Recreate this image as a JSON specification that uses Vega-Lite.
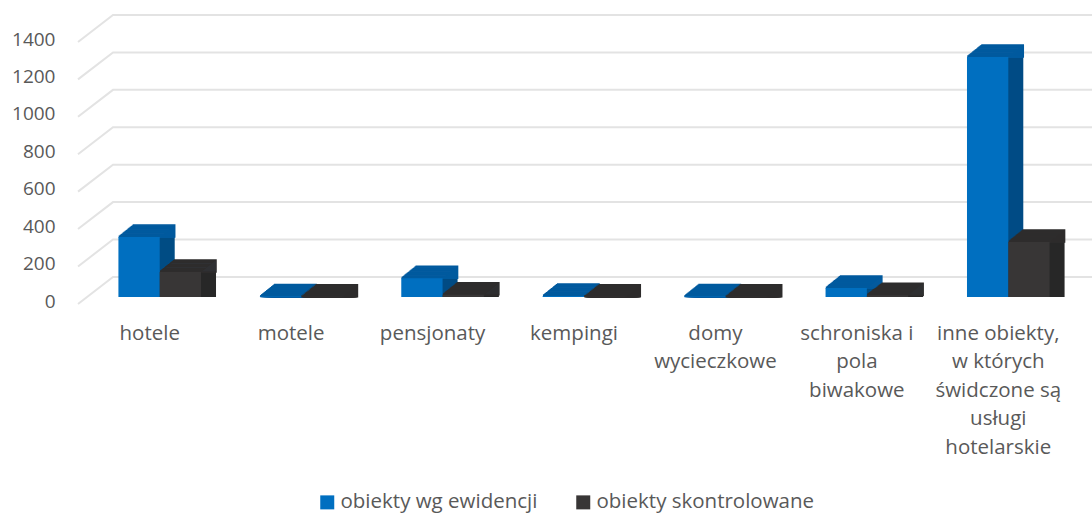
{"$schema":"https://vega.github.io/schema/vega-lite/v6.json","width":990,"height":262,"autosize":"none","padding":{"left":89,"top":35,"right":13,"bottom":216},"background":"white","view":{"stroke":null},
"config":{"font":"Open Sans","view":{"stroke":null}},
"datasets":{"bars":[
{"category":"hotele","series":"obiekty wg ewidencji","value":320},{"category":"hotele","series":"obiekty skontrolowane","value":134},
{"category":"motele","series":"obiekty wg ewidencji","value":3},{"category":"motele","series":"obiekty skontrolowane","value":1},
{"category":"pensjonaty","series":"obiekty wg ewidencji","value":100},{"category":"pensjonaty","series":"obiekty skontrolowane","value":12},
{"category":"kempingi","series":"obiekty wg ewidencji","value":6},{"category":"kempingi","series":"obiekty skontrolowane","value":2},
{"category":"domy\nwycieczkowe","series":"obiekty wg ewidencji","value":3},{"category":"domy\nwycieczkowe","series":"obiekty skontrolowane","value":1},
{"category":"schroniska i\npola\nbiwakowe","series":"obiekty wg ewidencji","value":48},{"category":"schroniska i\npola\nbiwakowe","series":"obiekty skontrolowane","value":10},
{"category":"inne obiekty,\nw których\nświdczone są\nusługi\nhotelarskie","series":"obiekty wg ewidencji","value":1283},{"category":"inne obiekty,\nw których\nświdczone są\nusługi\nhotelarskie","series":"obiekty skontrolowane","value":294}],
"wall":[
{"level":0,"depth":0,"v":-37},{"level":0,"depth":1,"v":107},{"level":0,"depth":2,"v":107},
{"level":200,"depth":0,"v":163},{"level":200,"depth":1,"v":307},{"level":200,"depth":2,"v":307},
{"level":400,"depth":0,"v":363},{"level":400,"depth":1,"v":507},{"level":400,"depth":2,"v":507},
{"level":600,"depth":0,"v":563},{"level":600,"depth":1,"v":707},{"level":600,"depth":2,"v":707},
{"level":800,"depth":0,"v":763},{"level":800,"depth":1,"v":907},{"level":800,"depth":2,"v":907},
{"level":1000,"depth":0,"v":963},{"level":1000,"depth":1,"v":1107},{"level":1000,"depth":2,"v":1107},
{"level":1200,"depth":0,"v":1163},{"level":1200,"depth":1,"v":1307},{"level":1200,"depth":2,"v":1307},
{"level":1400,"depth":0,"v":1363},{"level":1400,"depth":1,"v":1507},{"level":1400,"depth":2,"v":1507}]},
"resolve":{"scale":{"x":"independent"}},
"layer":[
{"data":{"name":"wall"},"mark":{"type":"line","color":"#E3E3E3","strokeWidth":2},
"encoding":{"x":{"field":"depth","type":"quantitative","axis":null,"scale":{"domain":[0,1,2],"range":[-11,24,1003]}},
"y":{"field":"v","type":"quantitative","title":null,"scale":{"domain":[0,1400],"nice":false},
"axis":{"values":[0,200,400,600,800,1000,1200,1400],"format":"d","labelOverlap":false,"labelFontSize":19,"labelColor":"#595959","labelPadding":34,"labelOffset":4,"ticks":false,"domain":false,"grid":false}},
"detail":{"field":"level"}}},
{"data":{"name":"bars"},
"encoding":{
"x":{"field":"category","type":"nominal","sort":null,"title":null,"scale":{"paddingInner":0.416,"paddingOuter":0.208},
"axis":{"labelExpr":"split(datum.label,'\\n')","labelAngle":0,"labelFontSize":20.5,"labelColor":"#595959","labelLineHeight":28.5,"labelPadding":26,"labelOffset":-10,"labelBaseline":"top","labelLimit":0,"labelOverlap":false,"ticks":false,"domain":false,"grid":false}},
"y":{"field":"value","type":"quantitative","stack":null,"title":null,"scale":{"domain":[0,1400],"nice":false},
"axis":{"values":[0,200,400,600,800,1000,1200,1400],"format":"d","labelOverlap":false,"labelFontSize":19,"labelColor":"#595959","labelPadding":34,"labelOffset":4,"ticks":false,"domain":false,"grid":false}}},
"layer":[
{"encoding":{"color":{"condition":{"test":"datum.series==='obiekty wg ewidencji'","value":"#004C85"},"value":"#282828"}},
"layer":[
{"mark":{"type":"bar","width":41.3,"xOffset":{"expr":"(datum.series==='obiekty wg ewidencji'?-20.65:20.65)+15"},"yOffset":-12}},{"mark":{"type":"bar","width":41.3,"xOffset":{"expr":"(datum.series==='obiekty wg ewidencji'?-20.65:20.65)+14"},"yOffset":-11.2}},{"mark":{"type":"bar","width":41.3,"xOffset":{"expr":"(datum.series==='obiekty wg ewidencji'?-20.65:20.65)+13"},"yOffset":-10.4}},{"mark":{"type":"bar","width":41.3,"xOffset":{"expr":"(datum.series==='obiekty wg ewidencji'?-20.65:20.65)+12"},"yOffset":-9.6}},{"mark":{"type":"bar","width":41.3,"xOffset":{"expr":"(datum.series==='obiekty wg ewidencji'?-20.65:20.65)+11"},"yOffset":-8.8}},{"mark":{"type":"bar","width":41.3,"xOffset":{"expr":"(datum.series==='obiekty wg ewidencji'?-20.65:20.65)+10"},"yOffset":-8}},{"mark":{"type":"bar","width":41.3,"xOffset":{"expr":"(datum.series==='obiekty wg ewidencji'?-20.65:20.65)+9"},"yOffset":-7.2}},{"mark":{"type":"bar","width":41.3,"xOffset":{"expr":"(datum.series==='obiekty wg ewidencji'?-20.65:20.65)+8"},"yOffset":-6.4}},{"mark":{"type":"bar","width":41.3,"xOffset":{"expr":"(datum.series==='obiekty wg ewidencji'?-20.65:20.65)+7"},"yOffset":-5.6}},{"mark":{"type":"bar","width":41.3,"xOffset":{"expr":"(datum.series==='obiekty wg ewidencji'?-20.65:20.65)+6"},"yOffset":-4.8}},{"mark":{"type":"bar","width":41.3,"xOffset":{"expr":"(datum.series==='obiekty wg ewidencji'?-20.65:20.65)+5"},"yOffset":-4}},{"mark":{"type":"bar","width":41.3,"xOffset":{"expr":"(datum.series==='obiekty wg ewidencji'?-20.65:20.65)+4"},"yOffset":-3.2}},{"mark":{"type":"bar","width":41.3,"xOffset":{"expr":"(datum.series==='obiekty wg ewidencji'?-20.65:20.65)+3"},"yOffset":-2.4}},{"mark":{"type":"bar","width":41.3,"xOffset":{"expr":"(datum.series==='obiekty wg ewidencji'?-20.65:20.65)+2"},"yOffset":-1.6}},{"mark":{"type":"bar","width":41.3,"xOffset":{"expr":"(datum.series==='obiekty wg ewidencji'?-20.65:20.65)+1"},"yOffset":-0.8}}]},
{"encoding":{"y2":{"field":"value"},"stroke":{"condition":{"test":"datum.series==='obiekty wg ewidencji'","value":"#005A9E"},"value":"#2E2C2C"}},
"layer":[
{"mark":{"type":"bar","width":41.3,"strokeWidth":1.5,"xOffset":{"expr":"(datum.series==='obiekty wg ewidencji'?-20.65:20.65)+15"},"yOffset":-12}},{"mark":{"type":"bar","width":41.3,"strokeWidth":1.5,"xOffset":{"expr":"(datum.series==='obiekty wg ewidencji'?-20.65:20.65)+14"},"yOffset":-11.2}},{"mark":{"type":"bar","width":41.3,"strokeWidth":1.5,"xOffset":{"expr":"(datum.series==='obiekty wg ewidencji'?-20.65:20.65)+13"},"yOffset":-10.4}},{"mark":{"type":"bar","width":41.3,"strokeWidth":1.5,"xOffset":{"expr":"(datum.series==='obiekty wg ewidencji'?-20.65:20.65)+12"},"yOffset":-9.6}},{"mark":{"type":"bar","width":41.3,"strokeWidth":1.5,"xOffset":{"expr":"(datum.series==='obiekty wg ewidencji'?-20.65:20.65)+11"},"yOffset":-8.8}},{"mark":{"type":"bar","width":41.3,"strokeWidth":1.5,"xOffset":{"expr":"(datum.series==='obiekty wg ewidencji'?-20.65:20.65)+10"},"yOffset":-8}},{"mark":{"type":"bar","width":41.3,"strokeWidth":1.5,"xOffset":{"expr":"(datum.series==='obiekty wg ewidencji'?-20.65:20.65)+9"},"yOffset":-7.2}},{"mark":{"type":"bar","width":41.3,"strokeWidth":1.5,"xOffset":{"expr":"(datum.series==='obiekty wg ewidencji'?-20.65:20.65)+8"},"yOffset":-6.4}},{"mark":{"type":"bar","width":41.3,"strokeWidth":1.5,"xOffset":{"expr":"(datum.series==='obiekty wg ewidencji'?-20.65:20.65)+7"},"yOffset":-5.6}},{"mark":{"type":"bar","width":41.3,"strokeWidth":1.5,"xOffset":{"expr":"(datum.series==='obiekty wg ewidencji'?-20.65:20.65)+6"},"yOffset":-4.8}},{"mark":{"type":"bar","width":41.3,"strokeWidth":1.5,"xOffset":{"expr":"(datum.series==='obiekty wg ewidencji'?-20.65:20.65)+5"},"yOffset":-4}},{"mark":{"type":"bar","width":41.3,"strokeWidth":1.5,"xOffset":{"expr":"(datum.series==='obiekty wg ewidencji'?-20.65:20.65)+4"},"yOffset":-3.2}},{"mark":{"type":"bar","width":41.3,"strokeWidth":1.5,"xOffset":{"expr":"(datum.series==='obiekty wg ewidencji'?-20.65:20.65)+3"},"yOffset":-2.4}},{"mark":{"type":"bar","width":41.3,"strokeWidth":1.5,"xOffset":{"expr":"(datum.series==='obiekty wg ewidencji'?-20.65:20.65)+2"},"yOffset":-1.6}},{"mark":{"type":"bar","width":41.3,"strokeWidth":1.5,"xOffset":{"expr":"(datum.series==='obiekty wg ewidencji'?-20.65:20.65)+1"},"yOffset":-0.8}}]},
{"mark":{"type":"bar","width":41.3,"xOffset":{"expr":"datum.series==='obiekty wg ewidencji'?-20.65:20.65"}},"encoding":{"color":{"field":"series","type":"nominal","title":null,"scale":{"domain":["obiekty wg ewidencji","obiekty skontrolowane"],"range":["#006FC0","#383636"]},
"legend":{"orient":"none","legendX":228,"legendY":457,"direction":"horizontal","symbolType":"square","symbolSize":196,"symbolStrokeWidth":0,"labelFontSize":20.5,"labelColor":"#595959","columnPadding":35,"labelOffset":3,"labelLimit":0}}}}
]}
]}
